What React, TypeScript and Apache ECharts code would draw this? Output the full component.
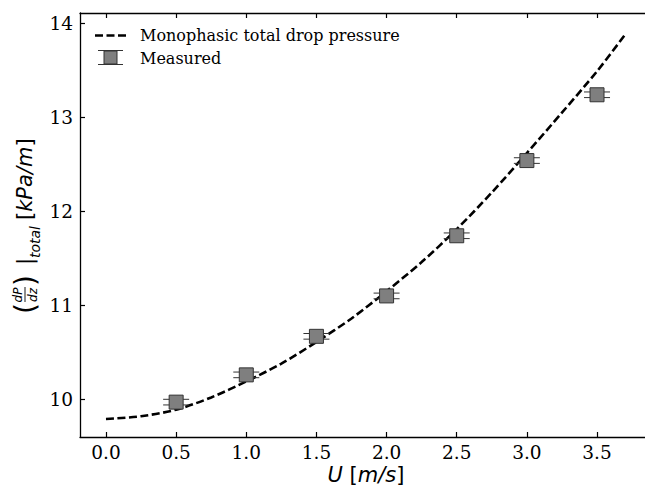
import React, { useEffect, useRef } from "react";
import * as echarts from "echarts";

// Model curve (monophasic total pressure drop)
const curveX = [0, 0.25, 0.5, 0.75, 1.0, 1.25, 1.5, 1.75, 2.0, 2.25, 2.5, 2.75, 3.0, 3.25, 3.5, 3.7];
const curveY = [9.79, 9.82, 9.89, 10.02, 10.19, 10.38, 10.61, 10.86, 11.15, 11.46, 11.81, 12.2, 12.62, 13.05, 13.49, 13.88];

// Measured points
const measX = [0.5, 1.0, 1.5, 2.0, 2.5, 3.0, 3.5];
const measY = [9.97, 10.26, 10.67, 11.1, 11.74, 12.54, 13.24];
const measErr = [0.03, 0.03, 0.03, 0.03, 0.03, 0.03, 0.03];

const xTicks = [0, 0.5, 1.0, 1.5, 2.0, 2.5, 3.0, 3.5];
const yTicks = [10, 11, 12, 13, 14];

const serif = "DejaVu Serif";
const sans = "DejaVu Sans";

export default function App() {
  const ref = useRef<HTMLDivElement>(null);
  useEffect(() => {
    if (!ref.current) return;
    const chart = echarts.init(ref.current, null, { renderer: "svg" });
    const axisLine = { show: true, onZero: false, lineStyle: { color: "#000", width: 1.3 } };
    const tickStyle = { lineStyle: { color: "#000", width: 1.2 } };
    const option: any = {
      animation: false,
      backgroundColor: "#fff",
      grid: { left: 80, top: 13, right: 0, bottom: 50, containLabel: false, outerBoundsMode: "none" },
      xAxis: [
        {
          type: "value",
          position: "bottom",
          min: -0.1853,
          max: 3.842,
          axisLine,
          splitLine: { show: false },
          axisTick: { show: true, inside: true, length: 5, customValues: xTicks, ...tickStyle },
          axisLabel: {
            customValues: xTicks,
            formatter: (v: number) => v.toFixed(1),
            fontFamily: serif,
            fontSize: 18.5,
            color: "#000",
            margin: 6,
          },
        },
        {
          type: "value",
          position: "top",
          min: -0.1853,
          max: 3.842,
          axisLine,
          splitLine: { show: false },
          axisTick: { show: true, inside: true, length: 5, customValues: xTicks, ...tickStyle },
          axisLabel: { show: false },
        },
      ],
      yAxis: [
        {
          type: "value",
          position: "left",
          min: 9.599,
          max: 14.11,
          axisLine,
          splitLine: { show: false },
          axisTick: { show: true, inside: true, length: 5, customValues: yTicks, ...tickStyle },
          axisLabel: {
            customValues: yTicks,
            formatter: (v: number) => String(Math.round(v)),
            fontFamily: serif,
            fontSize: 18.5,
            color: "#000",
            margin: 7,
          },
        },
      ],
      series: [
        {
          type: "line",
          name: "Monophasic total drop pressure",
          data: curveX.map((x, i) => [x, curveY[i]]),
          smooth: 0.3,
          showSymbol: false,
          symbol: "none",
          lineStyle: { color: "#000", width: 2.6, type: [8, 3.5] },
          z: 3,
        },
        {
          type: "custom",
          name: "Measured error",
          data: measX.map((x, i) => [x, measY[i], measErr[i]]),
          renderItem: (params: any, api: any) => {
            const x = api.value(0);
            const y = api.value(1);
            const e = api.value(2);
            const top = api.coord([x, y + e]);
            const bot = api.coord([x, y - e]);
            const hw = 13;
            const st = { stroke: "#333", lineWidth: 1 };
            return {
              type: "group",
              children: [
                { type: "line", shape: { x1: top[0], y1: top[1], x2: bot[0], y2: bot[1] }, style: st },
                { type: "line", shape: { x1: top[0] - hw, y1: top[1], x2: top[0] + hw, y2: top[1] }, style: st },
                { type: "line", shape: { x1: bot[0] - hw, y1: bot[1], x2: bot[0] + hw, y2: bot[1] }, style: st },
              ],
            };
          },
          z: 4,
        },
        {
          type: "scatter",
          name: "Measured",
          data: measX.map((x, i) => [x, measY[i]]),
          symbol: "rect",
          symbolSize: 14,
          itemStyle: { color: "#7f7f7f", borderColor: "#333", borderWidth: 1, opacity: 1 },
          z: 5,
        },
      ],
      graphic: [
        // legend
        {
          type: "line",
          shape: { x1: 95, y1: 35.5, x2: 127, y2: 35.5 },
          style: { stroke: "#000", lineWidth: 2.6, lineDash: [8, 3.5] },
        },
        {
          type: "text",
          x: 140,
          y: 35.5,
          style: { text: "Monophasic total drop pressure", fontFamily: serif, fontSize: 16, fill: "#000", verticalAlign: "middle" },
        },
        { type: "line", shape: { x1: 110.5, y1: 50.5, x2: 110.5, y2: 64.5 }, style: { stroke: "#333", lineWidth: 1 } },
        { type: "line", shape: { x1: 98, y1: 50.5, x2: 123, y2: 50.5 }, style: { stroke: "#333", lineWidth: 1 } },
        { type: "line", shape: { x1: 98, y1: 64.5, x2: 123, y2: 64.5 }, style: { stroke: "#333", lineWidth: 1 } },
        {
          type: "rect",
          shape: { x: 104, y: 51, width: 13, height: 13 },
          style: { fill: "#7f7f7f", stroke: "#333", lineWidth: 1 },
        },
        {
          type: "text",
          x: 140,
          y: 58,
          style: { text: "Measured", fontFamily: serif, fontSize: 16, fill: "#000", verticalAlign: "middle" },
        },
        // x axis title
        {
          type: "text",
          x: 366,
          y: 475,
          style: {
            text: "{i|U}{b| [}{i|m/s}{b|]}",
            align: "center",
            verticalAlign: "middle",
            rich: {
              i: { fontFamily: sans, fontStyle: "italic", fontSize: 21, fill: "#000" },
              b: { fontFamily: sans, fontSize: 21, fill: "#000" },
            },
          },
        },
        // y axis title (rotated)
        {
          type: "group",
          x: 27,
          y: 314,
          rotation: Math.PI / 2,
          children: [
            { type: "text", x: 0, y: -2, style: { text: "(", fontFamily: sans, fontSize: 28, fill: "#000", verticalAlign: "middle" } },
            { type: "text", x: 19, y: -9, style: { text: "dP", fontFamily: sans, fontStyle: "italic", fontSize: 12, fill: "#000", align: "center", verticalAlign: "middle" } },
            { type: "line", shape: { x1: 12, y1: -2, x2: 27, y2: -2 }, style: { stroke: "#000", lineWidth: 0.9 } },
            { type: "text", x: 19, y: 6, style: { text: "dz", fontFamily: sans, fontStyle: "italic", fontSize: 12, fill: "#000", align: "center", verticalAlign: "middle" } },
            { type: "text", x: 28, y: -2, style: { text: ")", fontFamily: sans, fontSize: 28, fill: "#000", verticalAlign: "middle" } },
            { type: "text", x: 49, y: -2, style: { text: "|", fontFamily: sans, fontSize: 21, fill: "#000", verticalAlign: "middle" } },
            { type: "text", x: 56, y: 8, style: { text: "total", fontFamily: sans, fontStyle: "italic", fontSize: 14, fill: "#000", verticalAlign: "middle" } },
            {
              type: "text",
              x: 94,
              y: -2,
              style: {
                text: "{b|[}{i|kPa/m}{b|]}",
                verticalAlign: "middle",
                rich: {
                  i: { fontFamily: sans, fontStyle: "italic", fontSize: 21, fill: "#000" },
                  b: { fontFamily: sans, fontSize: 21, fill: "#000" },
                },
              },
            },
          ],
        },
      ],
    };
    chart.setOption(option);
    return () => chart.dispose();
  }, []);
  return <div ref={ref} style={{ position: "fixed", left: 0, top: 0, width: 645, height: 487 }} />;
}
